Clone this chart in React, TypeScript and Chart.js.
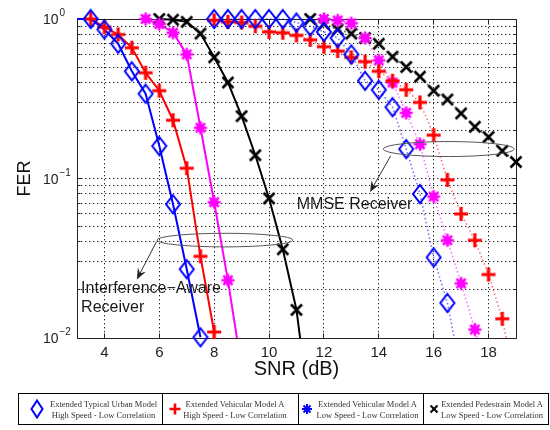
import React, { useEffect, useRef } from 'react';
import { Chart, registerables } from 'chart.js';

Chart.register(...registerables);

const SANS = '"Liberation Sans", Arial, Helvetica, sans-serif';
const SERIF = '"Liberation Serif", "Times New Roman", serif';

// ---- axes ----
const xTicks = [4, 6, 8, 10, 12, 14, 16, 18];
const yGrid = [0.01, 0.02, 0.03, 0.04, 0.05, 0.06, 0.07, 0.08, 0.09, 0.1, 0.2, 0.3, 0.4, 0.5, 0.6, 0.7, 0.8, 0.9, 1];
const yMajor = [1, 0.1, 0.01];
const yMajorExp = ['0', '\u22121', '\u22122'];

// ---- Interference-aware receiver (solid) ----
const snrUrbanIA = [2.5, 3.5, 4, 4.5, 5, 5.5, 6, 6.5, 7, 7.5];
const ferUrbanIA = [1, 1, 0.86, 0.7, 0.47, 0.34, 0.16, 0.069, 0.027, 0.0101];
const snrVehHighIA = [2.5, 3.5, 4, 4.5, 5, 5.5, 6, 6.5, 7, 7.5, 8];
const ferVehHighIA = [1, 1, 0.89, 0.8, 0.66, 0.46, 0.355, 0.232, 0.116, 0.0325, 0.0109];
const snrVehLowIA = [5.5, 6, 6.5, 7, 7.5, 8, 8.5, 9];
const ferVehLowIA = [1, 0.93, 0.82, 0.6, 0.208, 0.071, 0.023, 0.0065];
const snrPedIA = [6, 6.5, 7, 7.5, 8, 8.5, 9, 9.5, 10, 10.5, 11, 11.5];
const ferPedIA = [1, 0.99, 0.96, 0.81, 0.575, 0.4, 0.246, 0.14, 0.075, 0.036, 0.015, 0.0032];

// ---- MMSE receiver (dotted) ----
const snrUrbanMMSE = [8, 8.5, 9, 9.5, 10, 10.5, 11, 11.5, 12, 12.5, 13, 13.5, 14, 14.5, 15, 15.5, 16, 16.5, 17];
const ferUrbanMMSE = [1, 1, 1, 1, 1, 1, 0.95, 0.9, 0.83, 0.76, 0.6, 0.41, 0.36, 0.28, 0.153, 0.08, 0.032, 0.0166, 0.006];
const snrVehHighMMSE = [8, 8.5, 9, 9.5, 10, 10.5, 11, 11.5, 12, 12.5, 13, 13.5, 14, 14.5, 15, 15.5, 16, 16.5, 17, 17.5, 18, 18.5, 19];
const ferVehHighMMSE = [0.98, 0.96, 0.95, 0.9, 0.83, 0.82, 0.79, 0.74, 0.67, 0.63, 0.575, 0.54, 0.47, 0.41, 0.36, 0.3, 0.187, 0.098, 0.06, 0.041, 0.025, 0.0132, 0.005];
const snrVehLowMMSE = [12, 12.5, 13, 13.5, 14, 14.5, 15, 15.5, 16, 16.5, 17, 17.5, 18];
const ferVehLowMMSE = [1, 0.98, 0.94, 0.76, 0.55, 0.4, 0.258, 0.164, 0.077, 0.041, 0.022, 0.0113, 0.005];
const snrPedMMSE = [11.5, 12, 12.5, 13, 13.5, 14, 14.5, 15, 15.5, 16, 16.5, 17, 17.5, 18, 18.5, 19];
const ferPedMMSE = [1, 0.93, 0.86, 0.81, 0.76, 0.7, 0.58, 0.5, 0.435, 0.355, 0.313, 0.256, 0.211, 0.182, 0.149, 0.127];

// ---- legend ----
const legendLine1 = ['Extended Typical Urban Model', 'Extended Vehicular Model A', 'Extended Vehicular Model A', 'Extended Pedestrain Model A'];
const legendLine2 = ['High Speed - Low Correlation', 'High Speed - Low Correlation', 'Low Speed - Low Correlation', 'Low Speed - Low Correlation'];

// ---- annotations (data coordinates) ----
const annoEllipses = [
  { x: 16.55, y: 0.153, rx: 65.5, ry: 7.5 },
  { x: 8.39, y: 0.0411, rx: 68, ry: 6.8 },
];
const annoArrows = [
  { x0: 14.43, y0: 0.1384, x1: 13.68, y1: 0.0823 },
  { x0: 5.9, y0: 0.0402, x1: 5.18, y1: 0.0233 },
];
const annoTexts = [
  { text: 'MMSE Receiver', x: 11.01, y: 0.0682 },
  { text: 'Interference\u2212Aware', x: 3.15, y: 0.0203 },
  { text: 'Receiver', x: 3.15, y: 0.0155 },
];

const BLUE = '#0000ff';
const RED = '#ff0000';
const MAGENTA = '#ff00ff';
const BLACK = '#000000';

function markerCanvas(kind: string, color: string): HTMLCanvasElement {
  const c = document.createElement('canvas');
  const S = 24;
  c.width = S;
  c.height = S;
  const g = c.getContext('2d')!;
  const m = S / 2;
  g.strokeStyle = color;
  g.fillStyle = color;
  g.beginPath();
  if (kind === 'diamond') {
    g.lineWidth = 2;
    g.moveTo(m, m - 9);
    g.lineTo(m + 7, m);
    g.lineTo(m, m + 9);
    g.lineTo(m - 7, m);
    g.closePath();
    g.stroke();
  } else if (kind === 'plus') {
    g.lineWidth = 3.2;
    g.moveTo(m - 7, m);
    g.lineTo(m + 7, m);
    g.moveTo(m, m - 7);
    g.lineTo(m, m + 7);
    g.stroke();
  } else if (kind === 'star') {
    g.lineWidth = 2.6;
    for (let k = 0; k < 4; k++) {
      const a = (k * Math.PI) / 4;
      g.moveTo(m - Math.cos(a) * 6.5, m - Math.sin(a) * 6.5);
      g.lineTo(m + Math.cos(a) * 6.5, m + Math.sin(a) * 6.5);
    }
    g.stroke();
    g.beginPath();
    g.arc(m, m, 4, 0, Math.PI * 2);
    g.fill();
  } else {
    g.lineWidth = 2.6;
    g.moveTo(m - 5.5, m - 5.5);
    g.lineTo(m + 5.5, m + 5.5);
    g.moveTo(m + 5.5, m - 5.5);
    g.lineTo(m - 5.5, m + 5.5);
    g.stroke();
  }
  return c;
}

const SERIES = [
  { snr: snrUrbanIA, fer: ferUrbanIA, color: BLUE, line: BLUE, marker: 'diamond', dotted: false },
  { snr: snrUrbanMMSE, fer: ferUrbanMMSE, color: BLUE, line: 'rgba(0,0,255,0.55)', marker: 'diamond', dotted: true },
  { snr: snrVehHighIA, fer: ferVehHighIA, color: RED, line: RED, marker: 'plus', dotted: false },
  { snr: snrVehHighMMSE, fer: ferVehHighMMSE, color: RED, line: 'rgba(255,0,0,0.55)', marker: 'plus', dotted: true },
  { snr: snrVehLowIA, fer: ferVehLowIA, color: MAGENTA, line: MAGENTA, marker: 'star', dotted: false },
  { snr: snrVehLowMMSE, fer: ferVehLowMMSE, color: MAGENTA, line: 'rgba(255,0,255,0.55)', marker: 'star', dotted: true },
  { snr: snrPedIA, fer: ferPedIA, color: BLACK, line: BLACK, marker: 'x', dotted: false },
  { snr: snrPedMMSE, fer: ferPedMMSE, color: BLACK, line: 'rgba(0,0,0,0.6)', marker: 'x', dotted: true },
];

const align = (p: number) => Math.round(p - 0.5) + 0.5;

const decor = {
  id: 'decor',
  beforeDatasetsDraw(chart: any) {
    const { ctx, chartArea: a, scales } = chart;
    const xs = scales.x;
    const ys = scales.y;
    const L = align(a.left);
    const R = align(a.right);
    const T = align(a.top);
    const B = align(a.bottom);
    ctx.save();
    ctx.strokeStyle = '#222';
    ctx.lineWidth = 1;
    ctx.beginPath();
    ctx.rect(L, T, R - L, B - T);
    xTicks.forEach((v) => {
      const px = align(xs.getPixelForValue(v));
      ctx.moveTo(px, B);
      ctx.lineTo(px, B - 5);
      ctx.moveTo(px, T);
      ctx.lineTo(px, T + 5);
    });
    yGrid.forEach((v) => {
      const py = align(ys.getPixelForValue(v));
      const len = yMajor.includes(v) ? 5 : 3;
      ctx.moveTo(L, py);
      ctx.lineTo(L + len, py);
      ctx.moveTo(R, py);
      ctx.lineTo(R - len, py);
    });
    ctx.stroke();
    // y tick labels 10^n
    ctx.fillStyle = '#222';
    yMajor.forEach((v, i) => {
      const py = ys.getPixelForValue(v);
      ctx.font = `14px ${SANS}`;
      ctx.textAlign = 'right';
      ctx.textBaseline = 'middle';
      ctx.fillText('10', 58.5, py + 1.5);
      ctx.font = `10px ${SANS}`;
      ctx.textAlign = 'left';
      ctx.fillText(yMajorExp[i], 59.5, py - 5.5);
    });
    ctx.restore();
  },
  afterDatasetsDraw(chart: any) {
    const { ctx, scales } = chart;
    const xs = scales.x;
    const ys = scales.y;
    ctx.save();
    ctx.strokeStyle = '#555';
    ctx.lineWidth = 1;
    annoEllipses.forEach((e) => {
      ctx.beginPath();
      ctx.ellipse(xs.getPixelForValue(e.x), ys.getPixelForValue(e.y), e.rx, e.ry, 0, 0, Math.PI * 2);
      ctx.stroke();
    });
    ctx.strokeStyle = '#333';
    ctx.fillStyle = '#222';
    annoArrows.forEach((ar) => {
      const x0 = xs.getPixelForValue(ar.x0);
      const y0 = ys.getPixelForValue(ar.y0);
      const x1 = xs.getPixelForValue(ar.x1);
      const y1 = ys.getPixelForValue(ar.y1);
      const len = Math.hypot(x1 - x0, y1 - y0);
      const dx = (x1 - x0) / len;
      const dy = (y1 - y0) / len;
      const nx = -dy;
      const ny = dx;
      ctx.beginPath();
      ctx.moveTo(x0, y0);
      ctx.lineTo(x1 - dx * 5, y1 - dy * 5);
      ctx.stroke();
      ctx.beginPath();
      ctx.moveTo(x1, y1);
      ctx.lineTo(x1 - dx * 11 + nx * 4.5, y1 - dy * 11 + ny * 4.5);
      ctx.lineTo(x1 - dx * 7, y1 - dy * 7);
      ctx.lineTo(x1 - dx * 11 - nx * 4.5, y1 - dy * 11 - ny * 4.5);
      ctx.closePath();
      ctx.fill();
    });
    ctx.fillStyle = '#1a1a1a';
    ctx.font = `16px ${SANS}`;
    ctx.textAlign = 'left';
    ctx.textBaseline = 'middle';
    annoTexts.forEach((t) => {
      ctx.fillText(t.text, xs.getPixelForValue(t.x), ys.getPixelForValue(t.y));
    });
    ctx.restore();
  },
};

const legendCells = [
  { left: 18, right: 162, mx: 37, tx: 103.5 },
  { left: 162, right: 298, mx: 175, tx: 235 },
  { left: 298, right: 423, mx: 306.5, tx: 367.5 },
  { left: 423, right: 549, mx: 434, tx: 492 },
];

function LegendMarker({ i }: { i: number }) {
  if (i === 0) {
    return (
      <svg width={14} height={20}>
        <polygon points="7,1.5 12.5,10 7,18.5 1.5,10" fill="none" stroke={BLUE} strokeWidth={2} />
      </svg>
    );
  }
  if (i === 1) {
    return (
      <svg width={14} height={14}>
        <path d="M1.5 7 H12.5 M7 1.5 V12.5" stroke={RED} strokeWidth={2.6} fill="none" />
      </svg>
    );
  }
  if (i === 2) {
    return (
      <svg width={12} height={12}>
        <path d="M1 6 H11 M6 1 V11 M2.5 2.5 L9.5 9.5 M9.5 2.5 L2.5 9.5" stroke={BLUE} strokeWidth={2} fill="none" />
      </svg>
    );
  }
  return (
    <svg width={10} height={10}>
      <path d="M1.5 1.5 L8.5 8.5 M8.5 1.5 L1.5 8.5" stroke={BLACK} strokeWidth={2} fill="none" />
    </svg>
  );
}

export default function App() {
  const ref = useRef<HTMLCanvasElement>(null);

  useEffect(() => {
    const canvas = ref.current;
    if (!canvas) return;
    const markerSets: any[] = [];
    const lineSets: any[] = [];
    SERIES.forEach((s, i) => {
      const pts = s.snr.map((x, k) => ({ x, y: s.fer[k] }));
      markerSets.push({
        data: pts,
        showLine: false,
        pointStyle: markerCanvas(s.marker, s.color),
        pointRadius: 7,
        pointHoverRadius: 7,
        pointBorderWidth: 0,
        borderColor: s.color,
        backgroundColor: s.color,
        clip: { left: 0, top: 12, right: 12, bottom: 10 },
        order: i,
      });
      lineSets.push({
        data: pts,
        borderColor: s.line,
        borderWidth: s.dotted ? 1.6 : 2,
        borderDash: s.dotted ? [1.5, 2.5] : [],
        pointRadius: 0,
        pointHoverRadius: 0,
        fill: false,
        tension: 0,
        clip: { left: 0, top: 2, right: 2, bottom: 0 },
        order: 20 + i,
      });
    });

    const chart = new Chart(canvas, {
      type: 'line',
      data: { datasets: [...markerSets, ...lineSets] },
      options: {
        responsive: false,
        animation: false,
        events: [],
        layout: { padding: { left: 0, top: 19, right: 34, bottom: 47 } },
        plugins: { legend: { display: false }, tooltip: { enabled: false } },
        scales: {
          x: {
            type: 'linear',
            min: 3,
            max: 19,
            afterBuildTicks: (s: any) => {
              s.ticks = xTicks.map((v) => ({ value: v }));
            },
            afterFit: (s: any) => {
              s.height = 45;
            },
            grid: { color: '#222', lineWidth: 1, drawTicks: false },
            border: { display: false, dash: [1.3, 2.7] },
            ticks: {
              font: { family: SANS, size: 15 },
              color: '#222',
              padding: 6,
              maxRotation: 0,
              autoSkip: false,
              callback: (v: any) => String(v),
            },
            title: {
              display: true,
              text: 'SNR (dB)',
              font: { family: SANS, size: 20 },
              color: '#111',
              padding: { top: 0, bottom: 2 },
            },
          },
          y: {
            type: 'logarithmic',
            min: 0.01,
            max: 1,
            afterBuildTicks: (s: any) => {
              s.ticks = yGrid.map((v) => ({ value: v }));
            },
            afterFit: (s: any) => {
              s.width = 77;
            },
            grid: { color: '#222', lineWidth: 1, drawTicks: false },
            border: { display: false, dash: [1.3, 2.7] },
            ticks: { display: false },
            title: {
              display: true,
              text: 'FER',
              font: { family: SANS, size: 18 },
              color: '#111',
              padding: { top: 14, bottom: 0 },
            },
          },
        },
      } as any,
      plugins: [decor],
    });
    return () => chart.destroy();
  }, []);

  return (
    <div style={{ position: 'fixed', left: 0, top: 0, width: 550, height: 430, background: '#fff', overflow: 'hidden' }}>
      <canvas ref={ref} width={550} height={430} style={{ position: 'absolute', left: 0, top: 0 }} />
      <div
        style={{
          position: 'absolute',
          left: 18,
          top: 393,
          width: 531,
          height: 32,
          border: '1px solid #000',
          boxSizing: 'border-box',
        }}
      />
      {legendCells.slice(1).map((c, i) => (
        <div key={'d' + i} style={{ position: 'absolute', left: c.left, top: 393, width: 1, height: 32, background: '#000' }} />
      ))}
      {legendCells.map((c, i) => (
        <React.Fragment key={'c' + i}>
          <div style={{ position: 'absolute', left: c.mx - 10, top: 399, width: 20, height: 20, display: 'flex', alignItems: 'center', justifyContent: 'center' }}>
            <LegendMarker i={i} />
          </div>
          <div
            style={{
              position: 'absolute',
              left: c.tx - 70,
              top: 398.5,
              width: 140,
              textAlign: 'center',
              fontFamily: SERIF,
              fontSize: 8.5,
              lineHeight: '11px',
              color: '#333',
              whiteSpace: 'nowrap',
            }}
          >
            <div>{legendLine1[i]}</div>
            <div>{legendLine2[i]}</div>
          </div>
        </React.Fragment>
      ))}
    </div>
  );
}
